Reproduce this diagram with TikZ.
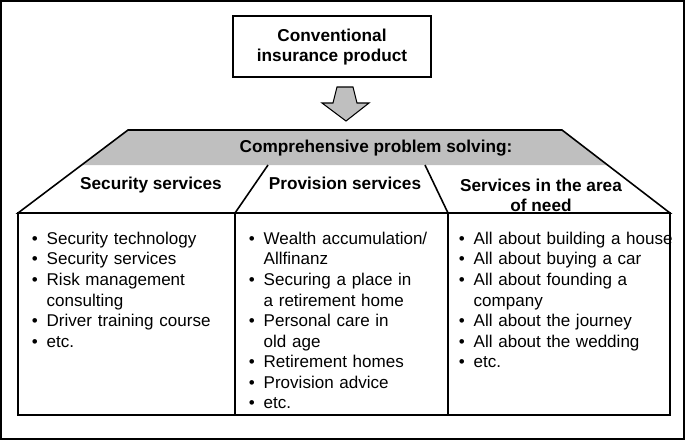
\documentclass[tikz,border=0pt]{standalone}
\usepackage{fontspec}
\setmainfont{Liberation Sans}
\usepackage{enumitem}
\begin{document}
\begin{tikzpicture}[x=0.02cm,y=-0.02cm,line width=0.9pt,
	head/.style={font=\fontsize{9.8}{11.5}\selectfont\bfseries,align=center},
	list/.style={anchor=north west,inner sep=0pt,text width=5cm,font=\fontsize{9.7}{11.7}\selectfont}]

	\useasboundingbox (0,0) rectangle (685,440);
	\draw [line width=0.7pt] (1,1) rectangle (684,439);

	% top box and arrow
	\draw (233,16) rectangle (431,77);
	\node [head] (conv) at (332,47) {Conventional\\insurance product};
	\draw [fill=black!25,line width=0.6pt] (337,87)--(353,87)--(357,103)--(369,103)--(346,121)--(322,103)--(333,103)--cycle;

	% trapezoid
	\coordinate (A) at (128,130);
	\coordinate (B) at (562,130);
	\coordinate (C) at (670,213);
	\coordinate (D) at (18,213);
	\fill [black!25] (A)--(B)--(607.5,165)--(82,165)--cycle;
	\draw (A)--(B)--(C)--(D)--cycle;
	\draw (268,165)--(235,213);
	\draw (425,165)--(448,213);
	\node [head] (comp) at (376,148) {Comprehensive problem solving:};
	\node [head] (sec) at (151,185) {Security services};
	\node [head] (prov) at (345,183) {Provision services};
	\node [head] (need) at (541,195) {Services in the area\\of need};

	% lower box
	\draw (D) rectangle (670,415);
	\draw (235,213)--(235,415);
	\draw (448,213)--(448,415);

	\node [list] (l1) at (28,223) {\begin{itemize}[leftmargin=1.05em,label=\textbullet,nosep]
		\item Security technology
		\item Security services
		\item Risk management\newline consulting
		\item Driver training course
		\item etc.
	\end{itemize}};
	\node [list] (l2) at (245,223) {\begin{itemize}[leftmargin=1.05em,label=\textbullet,nosep]
		\item Wealth accumulation/\newline Allfinanz
		\item Securing a place in\newline a retirement home
		\item Personal care in\newline old age
		\item Retirement homes
		\item Provision advice
		\item etc.
	\end{itemize}};
	\node [list] (l3) at (455,223) {\begin{itemize}[leftmargin=1.05em,label=\textbullet,nosep]
		\item All about building a house
		\item All about buying a car
		\item All about founding a\newline company
		\item All about the journey
		\item All about the wedding
		\item etc.
	\end{itemize}};

\end{tikzpicture}
\end{document}
